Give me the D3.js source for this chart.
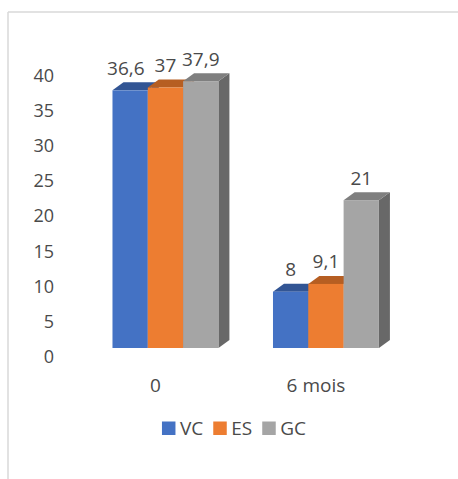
<!DOCTYPE html>
<html>
<head>
<meta charset="utf-8">
<script src="https://cdn.jsdelivr.net/npm/d3@7"></script>
<style>
  html, body { margin: 0; padding: 0; background: #ffffff; }
  svg { display: block; font-family: "Open Sans", "Noto Sans", sans-serif; }
</style>
</head>
<body>
<svg id="chart" width="458" height="479"></svg>
<script>
// Chart data
const categories = ["0", "6 mois"];
const seriesNames = ["VC", "ES", "GC"];
const valuesVC = [36.6, 8];
const valuesES = [37, 9.1];
const valuesGC = [37.9, 21];
const valueLabelsVC = ["36,6", "8"];
const valueLabelsES = ["37", "9,1"];
const valueLabelsGC = ["37,9", "21"];
const yTicks = [0, 5, 10, 15, 20, 25, 30, 35, 40];

const seriesValues = [valuesVC, valuesES, valuesGC];
const seriesLabels = [valueLabelsVC, valueLabelsES, valueLabelsGC];

// Face colours: front, top, side
const palette = [
  { front: "#4472C4", top: "#325594", side: "#2c4c86" },
  { front: "#ED7D31", top: "#b65e22", side: "#a5551e" },
  { front: "#A5A5A5", top: "#7f7f7f", side: "#686868" }
];

const textColor = "#4a4a4a";

const svg = d3.select("#chart");

// Chart frame (light border)
svg.append("line").attr("x1", 8).attr("y1", 12).attr("x2", 458).attr("y2", 12)
  .attr("stroke", "#d9d9d9").attr("stroke-width", 1.5);
svg.append("line").attr("x1", 8).attr("y1", 12).attr("x2", 8).attr("y2", 479)
  .attr("stroke", "#d9d9d9").attr("stroke-width", 1.5);

// Scales
const y = d3.scaleLinear().domain([0, 40]).range([348, 66.4]);
const x = d3.scaleBand().domain(categories).range([85.2, 406.2])
  .paddingInner(0.34).paddingOuter(0.17);
const xs = d3.scaleBand().domain(seriesNames).range([0, x.bandwidth()]);

// 3D depth offset of the bars
const depthX = 11, depthY = -8;
// Axis labels sit on the projected floor plane
const tickShift = 9;
const catShift = -10;

// Value axis (labels only, no line)
const yAxis = d3.axisLeft(y).tickValues(yTicks).tickSize(0).tickPadding(0)
  .tickFormat(d3.format("d"));
const gy = svg.append("g").attr("transform", `translate(54,${tickShift})`).call(yAxis);
gy.select(".domain").remove();
gy.selectAll("text")
  .attr("fill", textColor)
  .style("font-size", "18px")
  .style("font-family", "'Open Sans', sans-serif");

// Bars
const bars = svg.append("g");
categories.forEach((cat, ci) => {
  seriesNames.forEach((s, si) => {
    const v = seriesValues[si][ci];
    const x0 = x(cat) + xs(s);
    const x1 = x0 + xs.bandwidth();
    const yTop = y(v);
    const yBot = y(0);
    const c = palette[si];
    // side face
    bars.append("path")
      .attr("d", `M${x1},${yTop} L${x1 + depthX},${yTop + depthY} L${x1 + depthX},${yBot + depthY} L${x1},${yBot} Z`)
      .attr("fill", c.side);
    // top face
    bars.append("path")
      .attr("d", `M${x0},${yTop} L${x0 + depthX},${yTop + depthY} L${x1 + depthX},${yTop + depthY} L${x1},${yTop} Z`)
      .attr("fill", c.top);
    // front face
    bars.append("rect")
      .attr("x", x0).attr("y", yTop)
      .attr("width", x1 - x0).attr("height", yBot - yTop)
      .attr("fill", c.front);
  });
});

// Value labels
const labels = svg.append("g");
categories.forEach((cat, ci) => {
  const row = seriesNames.map((s, si) => {
    const v = seriesValues[si][ci];
    return labels.append("text")
      .attr("x", x(cat) + xs(s) + xs.bandwidth() / 2)
      .attr("y", y(v) + depthY - 7.5)
      .attr("text-anchor", "middle")
      .attr("fill", textColor)
      .style("font-size", "19px")
      .text(seriesLabels[si][ci]);
  });
  // push the first label left when it crowds its neighbour
  const minGap = 10;
  const b0 = row[0].node().getBBox(), b1 = row[1].node().getBBox();
  const overlap = b0.x + b0.width + minGap - b1.x;
  if (overlap > 0) row[0].attr("x", +row[0].attr("x") - overlap);
});

// Category labels
svg.append("g").selectAll("text").data(categories).join("text")
  .attr("x", d => x(d) + x.bandwidth() / 2 + catShift)
  .attr("y", 392)
  .attr("text-anchor", "middle")
  .attr("fill", textColor)
  .style("font-size", "19px")
  .text(d => d);

// Legend
const legend = svg.append("g");
let lx = 0;
seriesNames.forEach((s, si) => {
  const item = legend.append("g").attr("transform", `translate(${lx},0)`);
  item.append("rect").attr("x", 0).attr("y", -6.5).attr("width", 13.5).attr("height", 13.5)
    .attr("fill", palette[si].front);
  const t = item.append("text").attr("x", 18).attr("y", 7)
    .attr("fill", textColor).style("font-size", "19px").text(s);
  lx += 18 + t.node().getComputedTextLength() + 10;
});
const legendWidth = lx - 10;
legend.attr("transform", `translate(${234 - legendWidth / 2},428)`);
</script>
</body>
</html>
